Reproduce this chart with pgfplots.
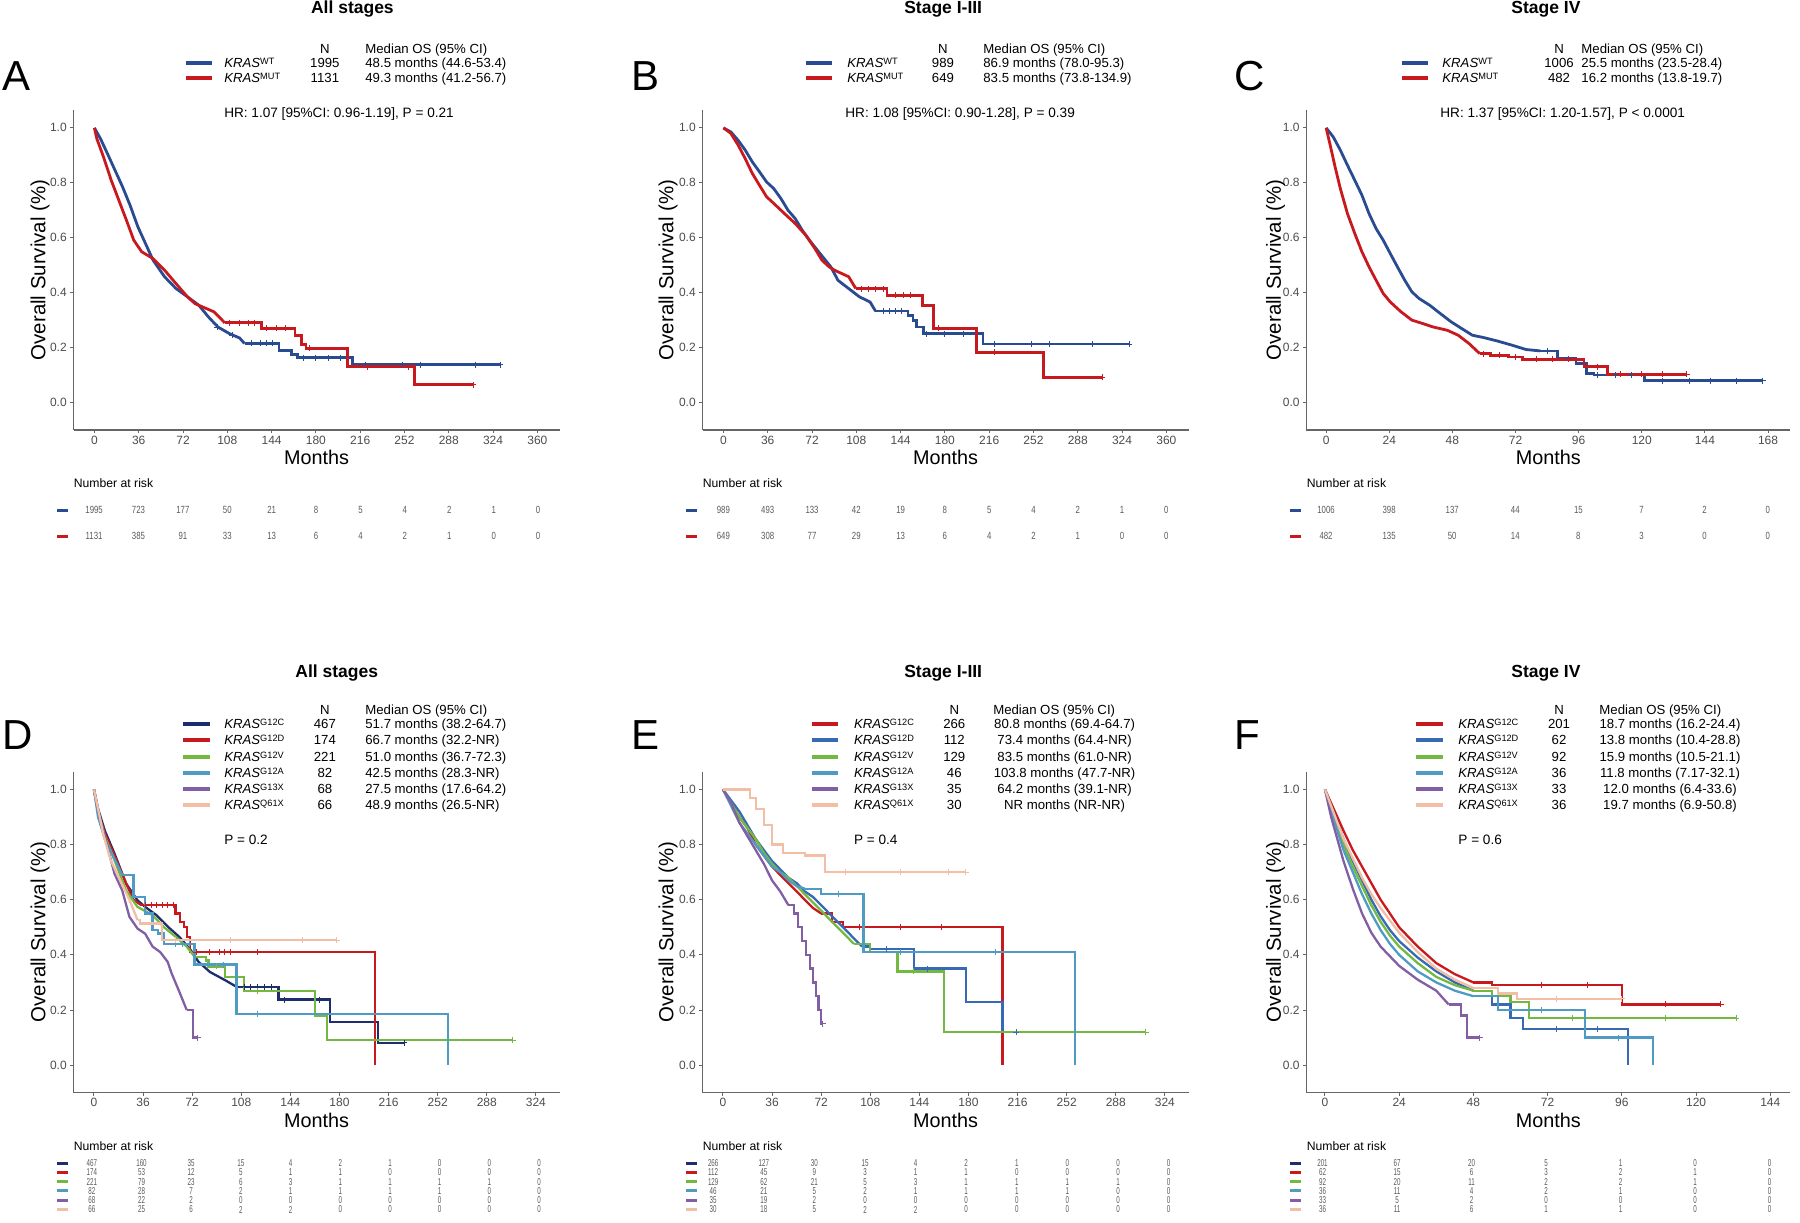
\documentclass[border=0pt]{standalone}
\usepackage{fontspec}
\setmainfont{Liberation Sans}
\usepackage{pgfplots}
\pgfplotsset{compat=1.18}

\newcommand\fs[1]{\fontsize{#1}{#1}\selectfont}
\newcommand\kras[1]{\textit{KRAS}\raisebox{1.5pt}{\fs{4.6}#1}}

\definecolor{wt}{RGB}{40,75,145}
\definecolor{mut}{RGB}{200,25,30}
\definecolor{cnavy}{RGB}{30,45,110}
\definecolor{cred}{RGB}{200,25,30}
\definecolor{cblue}{RGB}{55,105,180}
\definecolor{cgreen}{RGB}{115,185,65}
\definecolor{cteal}{RGB}{80,155,195}
\definecolor{cpurple}{RGB}{130,95,165}
\definecolor{cpeach}{RGB}{242,190,165}

\pgfplotsset{
  km/.style={
    scale only axis, anchor=south west,
    axis lines*=left,
    axis line style={draw=black!60, line width=0.6pt},
    every tick/.style={draw=black!60, line width=0.5pt},
    tick align=outside, major tick length=1.7pt,
    ymin=-0.1, ymax=1.065,
    ytick={0,0.2,0.4,0.6,0.8,1},
    yticklabels={0.0,0.2,0.4,0.6,0.8,1.0},
    ticklabel style={font=\fs{6}, text=black!70},
    xticklabel style={inner sep=1pt},
    yticklabel style={inner sep=1.5pt},
    /pgf/number format/assume math mode=true,
  },
  kml/.style={line width=1.4pt},
  kmb/.style={line width=1.15pt},
  cens/.style={only marks, mark=+, mark size=1.5pt, line width=0.5pt},
}

% legend row: colour, y centre, superscript, N, median
\newcommand\lrow[5]{%
  \draw[#1, line width=2pt] (\LX,#2) -- (\LXe,#2);
  \node[lab, anchor=base west] at (\KX,#2+4.7) {\kras{#3}};
  \node[lab, anchor=base] at (\NX,#2+4.7) {#4};
  \node[lab, anchor=\MA] at (\MX,#2+4.7) {#5};
}
% risk row: colour, marker x, y, x0, dx, numbers
\newcommand\rrow[6]{%
  \draw[#1, line width=1.5pt] (#2,#3) -- ({#2+10.5},#3);
  \foreach \v [count=\i from 0] in {#6} \node[risk] at ({#4+#5*\i},#3) {\v};
}

\begin{document}
\begin{tikzpicture}[x=0.5pt, y=-0.5pt,
  lab/.style={inner sep=0pt, font=\fs{6.6}},
  risk/.style={inner sep=0pt, font=\fs{5.2}, text=black!65, xscale=0.75},
  ttl/.style={inner sep=0pt, font=\bfseries\fs{8.75}, anchor=base},
  let/.style={inner sep=0pt, font=\fs{21}, anchor=base west},
  ylab/.style={inner sep=0pt, font=\fs{10.2}, rotate=90},
  xlab/.style={inner sep=0pt, font=\fs{9.9}, anchor=base},
  nar/.style={inner sep=0pt, font=\fs{6.1}, anchor=base west},
  pv/.style={inner sep=0pt, font=\fs{6.8}, anchor=base west}]
\path[use as bounding box] (0,0) rectangle (1800,1222);

%% ---------------- A ----------------
\begin{axis}[km, at={(36.75pt,-215pt)}, width=243pt, height=160pt,
  xmin=-17, xmax=378, xtick={0,36,...,360}]
\addplot[wt, kml] coordinates {(0,1.0)(5,.96)(10.5,.907)(16.7,.846)(22.9,.785)(29,.718)(35.3,.64)(41.5,.579)(47.7,.518)(57,.458)(66.3,.415)(75.6,.385)(84.9,.354)(92.6,.312)(100.4,.275)(109.7,.251)(118,.235)(122,.215)};
\addplot[wt, kml, const plot] coordinates {(122,.215)(150,.19)(160,.175)(165,.163)(210,.138)(330,.138)};
\addplot[mut, kml] coordinates {(0,1.0)(2,.96)(7.4,.894)(13.6,.81)(19.8,.737)(26,.664)(32,.591)(38.4,.549)(47.7,.524)(57,.482)(66.3,.433)(75.6,.385)(81.8,.36)(88,.348)(97.3,.33)(106,.29)};
\addplot[mut, kml, const plot] coordinates {(106,.29)(136,.27)(163,.245)(168,.21)(172,.197)(206,.13)(260,.0655)(308,.0655)};
\addplot[wt, cens] coordinates {(100,.275)(112,.245)(128,.215)(135,.215)(140,.215)(145,.215)(170,.163)(180,.163)(190,.163)(200,.163)(220,.138)(250,.138)(265,.138)(310,.138)(330,.138)};
\addplot[mut, cens] coordinates {(110,.29)(118,.29)(125,.29)(130,.29)(140,.27)(148,.27)(155,.27)(175,.197)(222,.13)(255,.13)(308,.0655)};
\end{axis}
\node[ttl] at (352.4,13.3) {All stages};
\node[let] at (2,90) {A};
\def\LX{186}\def\LXe{212.4}\def\KX{223.9}\def\NX{324.9}\def\MX{365}\def\MA{base west}
\node[lab, anchor=base] at (\NX,53) {N};
\node[lab, anchor=base west] at (\MX,53) {Median OS (95\% CI)};
\lrow{wt}{62.5}{WT}{1995}{48.5 months (44.6-53.4)}
\lrow{mut}{78}{MUT}{1131}{49.3 months (41.2-56.7)}
\node[pv] at (223.9,117.9) {HR: 1.07 [95\%CI: 0.96-1.19], P = 0.21};
\node[ylab] at (40.2,270) {Overall Survival (\%)};
\node[xlab] at (316.5,464.1) {Months};
\node[nar] at (73.5,487.4) {Number at risk};
\rrow{wt}{57.4}{510}{94.1}{44.4}{1995,723,177,50,21,8,5,4,2,1,0}
\rrow{mut}{57.4}{536}{94.1}{44.4}{1131,385,91,33,13,6,4,2,1,0,0}

%% ---------------- B ----------------
\begin{axis}[km, at={(351.25pt,-215pt)}, width=243pt, height=160pt,
  xmin=-17, xmax=378, xtick={0,36,...,360}]
\addplot[wt, kml] coordinates {(0,1)(6.1,.985)(11.9,.955)(17.7,.919)(23.5,.876)(29.3,.84)(35.1,.803)(40.9,.779)(46.7,.743)(52.5,.70)(58.3,.67)(64.1,.627)(69.9,.591)(78.6,.542)(87.3,.494)(93.1,.445)(101.8,.415)(110.5,.385)(119.2,.366)(123.6,.333)};
\addplot[wt, kml, const plot] coordinates {(123.6,.333)(150,.318)(154,.30)(157,.275)(162.7,.251)(211,.213)(330,.213)};
\addplot[mut, kml] coordinates {(0,1)(6,.98)(12,.937)(17.7,.888)(23.5,.834)(29.3,.791)(35.1,.749)(40.9,.725)(49.6,.688)(58.3,.652)(67,.609)(74.3,.561)(80.1,.518)(85.9,.494)(90.2,.482)(96,.47)(101.8,.458)(107.6,.415)};
\addplot[mut, kml, const plot] coordinates {(107.6,.415)(133,.39)(162,.352)(171,.27)(206,.183)(260,.092)(308,.092)};
\addplot[wt, cens] coordinates {(130,.333)(135,.333)(140,.333)(145,.333)(165,.251)(180,.251)(195,.251)(220,.213)(250,.213)(265,.213)(300,.213)(330,.213)};
\addplot[mut, cens] coordinates {(112,.415)(118,.415)(124,.415)(130,.415)(140,.39)(146,.39)(152,.39)(175,.27)(220,.183)(308,.092)};
\end{axis}
\node[ttl] at (943.2,13.3) {Stage I-III};
\node[let] at (630.7,90) {B};
\def\LX{806}\def\LXe{832}\def\KX{847}\def\NX{943}\def\MX{983}\def\MA{base west}
\node[lab, anchor=base] at (\NX,53) {N};
\node[lab, anchor=base west] at (\MX,53) {Median OS (95\% CI)};
\lrow{wt}{62.5}{WT}{989}{86.9 months (78.0-95.3)}
\lrow{mut}{78}{MUT}{649}{83.5 months (73.8-134.9)}
\node[pv] at (845,117.9) {HR: 1.08 [95\%CI: 0.90-1.28], P = 0.39};
\node[ylab] at (668.2,270) {Overall Survival (\%)};
\node[xlab] at (945.5,464.1) {Months};
\node[nar] at (702.5,487.4) {Number at risk};
\rrow{wt}{686.4}{510}{723.4}{44.3}{989,493,133,42,19,8,5,4,2,1,0}
\rrow{mut}{686.4}{536}{723.4}{44.3}{649,308,77,29,13,6,4,2,1,0,0}

%% ---------------- C ----------------
\begin{axis}[km, at={(653.2pt,-215pt)}, width=242pt, height=160pt,
  xmin=-7.5, xmax=176.5, xtick={0,24,...,168}]
\addplot[wt, kml] coordinates {(0,1)(2.7,.967)(5.4,.919)(8.1,.864)(10.9,.809)(13.6,.755)(16.3,.688)(19,.633)(21.7,.591)(24.4,.542)(27.1,.494)(29.9,.445)(32.6,.403)(35.3,.379)(39.4,.354)(43.4,.324)(47.5,.294)(51.6,.269)(55.6,.245)(59.7,.237)(65.1,.224)(70.6,.209)(76,.193)(81.4,.188)};
\addplot[wt, kml, const plot] coordinates {(81.4,.188)(88,.16)(95,.142)(99,.106)(101.8,.1)(121,.08)(166,.08)};
\addplot[mut, kml] coordinates {(0,1)(1.4,.943)(3.4,.858)(5.4,.779)(8.1,.688)(10.9,.615)(13.6,.549)(16.3,.494)(19,.445)(21.7,.397)(24.4,.366)(28.5,.33)(32.6,.30)(36.6,.288)(40.7,.275)(46.1,.263)(50.2,.245)(54.3,.215)(58.4,.178)};
\addplot[mut, kml, const plot] coordinates {(58.4,.178)(62.4,.172)(69.2,.166)(74.6,.157)(98,.13)(107,.103)(137,.103)};
\addplot[wt, cens] coordinates {(84,.188)(92,.16)(103,.1)(110,.1)(116,.1)(128,.08)(138,.08)(146,.08)(156,.08)(166,.08)};
\addplot[mut, cens] coordinates {(60,.178)(66,.172)(72,.166)(80,.157)(86,.157)(92,.157)(103,.13)(112,.103)(120,.103)(128,.103)(137,.103)};
\end{axis}
\node[ttl] at (1546,13.3) {Stage IV};
\node[let] at (1234,90) {C};
\def\LX{1402}\def\LXe{1428}\def\KX{1442}\def\NX{1559}\def\MX{1581}\def\MA{base west}
\node[lab, anchor=base] at (\NX,53) {N};
\node[lab, anchor=base west] at (\MX,53) {Median OS (95\% CI)};
\lrow{wt}{62.5}{WT}{1006}{25.5 months (23.5-28.4)}
\lrow{mut}{78}{MUT}{482}{16.2 months (13.8-19.7)}
\node[pv] at (1440,117.9) {HR: 1.37 [95\%CI: 1.20-1.57], P < 0.0001};
\node[ylab] at (1275.7,270) {Overall Survival (\%)};
\node[xlab] at (1548.4,464.1) {Months};
\node[nar] at (1306.4,487.4) {Number at risk};
\rrow{wt}{1290.4}{510}{1326}{63.1}{1006,398,137,44,15,7,2,0}
\rrow{mut}{1290.4}{536}{1326}{63.1}{482,135,50,14,8,3,0,0}

%% ---------------- D ----------------
\begin{axis}[km, at={(36.75pt,-546.35pt)}, width=243pt, height=160.6pt,
  xmin=-15, xmax=341.3, xtick={0,36,...,324}]
\addplot[cnavy, kmb] coordinates {(0,1)(3,.93)(8,.85)(15.1,.767)(23.5,.659)(31.9,.598)(37.5,.574)(45.8,.544)(54.2,.502)(62.6,.465)(71,.417)(76.6,.375)(85,.338)(96.2,.308)(104.6,.284)};
\addplot[cnavy, kmb, const plot] coordinates {(104.6,.284)(135.3,.238)(173,.157)(208,.081)(227.6,.081)};
\addplot[cred, kmb] coordinates {(0,1)(3,.92)(8,.84)(15.1,.76)(23.5,.66)(29,.60)(34.7,.58)};
\addplot[cred, kmb, const plot] coordinates {(34.7,.58)(59.8,.55)(63,.52)(66,.50)(68,.465)(70.2,.41)(206,0)};
\addplot[cgreen, kmb] coordinates {(0,1)(3,.92)(8,.83)(15.1,.743)(23.5,.634)(31.9,.574)(43,.544)(51.4,.50)(60,.465)(68,.43)(73.8,.393)};
\addplot[cgreen, kmb, const plot] coordinates {(73.8,.393)(82.2,.38)(84,.358)(96,.32)(110,.27)(161.9,.18)(171,.09)(307,.09)};
\addplot[cteal, kmb] coordinates {(0,1)(3,.9)(8,.82)(12,.78)(20.7,.69)};
\addplot[cteal, kmb, const plot] coordinates {(20.7,.69)(29,.61)(37.5,.55)(43,.49)(47,.477)(51.4,.44)(73.8,.365)(104.6,.185)(259.7,0)};
\addplot[cpurple, kmb] coordinates {(0,1)(4,.9)(9.5,.80)(15,.695)(20.7,.634)(26,.538)(32,.495)(37.5,.477)(43,.43)(48.6,.41)(54,.375)(57,.332)(62.6,.266)(68,.2)};
\addplot[cpurple, kmb, const plot] coordinates {(68,.2)(72.4,.1)(76,.1)};
\addplot[cpeach, kmb] coordinates {(0,1)(3,.93)(6.7,.84)(12.3,.743)(18,.683)(26,.6)(32,.526)};
\addplot[cpeach, kmb, const plot] coordinates {(32,.526)(34,.514)(50,.453)(178,.453)};
\addplot[cnavy, cens] coordinates {(110,.284)(115,.284)(120,.284)(125,.284)(130,.284)(140,.238)(165,.238)(227.6,.081)};
\addplot[cred, cens] coordinates {(38,.58)(42,.58)(46,.58)(50,.58)(54,.58)(58,.58)(75,.41)(85,.41)(92,.41)(96,.41)(100,.41)(120,.41)};
\addplot[cgreen, cens] coordinates {(90,.358)(120,.27)(307,.09)};
\addplot[cteal, cens] coordinates {(60,.44)(65,.44)(70,.44)(95,.365)(120,.185)};
\addplot[cpurple, cens] coordinates {(76,.1)};
\addplot[cpeach, cens] coordinates {(60,.453)(100,.453)(153,.453)(178,.453)};
\end{axis}
\node[ttl] at (336.8,677.3) {All stages};
\node[let] at (2,749) {D};
\def\LX{182.5}\def\LXe{210}\def\KX{223.9}\def\NX{324.9}\def\MX{365}\def\MA{base west}
\node[lab, anchor=base] at (\NX,714.7) {N};
\node[lab, anchor=base west] at (\MX,714.7) {Median OS (95\% CI)};
\lrow{cnavy}{724}{G12C}{467}{51.7 months (38.2-64.7)}
\lrow{cred}{740}{G12D}{174}{66.7 months (32.2-NR)}
\lrow{cgreen}{757}{G12V}{221}{51.0 months (36.7-72.3)}
\lrow{cteal}{773}{G12A}{82}{42.5 months (28.3-NR)}
\lrow{cpurple}{789}{G13X}{68}{27.5 months (17.6-64.2)}
\lrow{cpeach}{805}{Q61X}{66}{48.9 months (26.5-NR)}
\node[pv] at (223.9,844.9) {P = 0.2};
\node[ylab] at (40.2,932) {Overall Survival (\%)};
\node[xlab] at (316.5,1127.1) {Months};
\node[nar] at (73.5,1150.4) {Number at risk};
\begin{scope}[risk/.append style={font=\fs{5}, xscale=0.83}]
\rrow{cnavy}{57.4}{1163}{91.8}{49.7}{467,160,35,15,4,2,1,0,0,0}
\rrow{cred}{57.4}{1172.3}{91.8}{49.7}{174,53,12,5,1,1,0,0,0,0}
\rrow{cgreen}{57.4}{1181.6}{91.8}{49.7}{221,79,23,6,3,1,1,1,1,0}
\rrow{cteal}{57.4}{1190.9}{91.8}{49.7}{82,28,7,2,1,1,1,1,0,0}
\rrow{cpurple}{57.4}{1200.2}{91.8}{49.7}{68,22,2,0,0,0,0,0,0,0}
\rrow{cpeach}{57.4}{1209.5}{91.8}{49.7}{66,25,6,2,2,0,0,0,0,0}
\end{scope}

%% ---------------- E ----------------
\begin{axis}[km, at={(351.25pt,-546.35pt)}, width=243pt, height=160.6pt,
  xmin=-15, xmax=341.3, xtick={0,36,...,324}]
\addplot[cred, kmb] coordinates {(0,1)(6,.95)(12,.9)(18,.86)(24,.8)(30,.76)(36,.72)(42,.69)(48,.66)(54,.63)(60,.6)(66,.57)(72,.55)};
\addplot[cred, kmb, const plot] coordinates {(72,.55)(80,.52)(88,.5)(205,0)};
\addplot[cblue, kmb] coordinates {(0,1)(6,.96)(12,.92)(18,.87)(24,.82)(30,.78)(36,.74)(42,.71)(48,.68)(54,.66)(60,.63)(66,.61)(72,.58)(78,.55)(84,.52)(90,.49)(96,.46)(102,.43)};
\addplot[cblue, kmb, const plot] coordinates {(102,.43)(108,.42)(140,.35)(178,.23)(205,.12)(215,.12)};
\addplot[cgreen, kmb] coordinates {(0,1)(6,.95)(12,.9)(18,.86)(24,.82)(30,.77)(36,.73)(42,.7)(48,.68)(54,.65)(60,.62)(66,.59)(72,.56)(78,.53)(84,.5)(90,.47)(96,.44)};
\addplot[cgreen, kmb, const plot] coordinates {(96,.44)(108,.41)(128,.34)(162,.12)(310,.12)};
\addplot[cteal, kmb] coordinates {(0,1)(6,.94)(12,.88)(18,.84)(24,.8)(30,.76)(36,.72)(42,.7)(48,.67)(54,.65)(60,.64)};
\addplot[cteal, kmb, const plot] coordinates {(60,.64)(72,.62)(103,.41)(258,0)};
\addplot[cpurple, kmb] coordinates {(0,1)(6,.95)(12,.88)(18,.83)(24,.78)(30,.73)(36,.67)(42,.63)(48,.58)};
\addplot[cpurple, kmb, const plot] coordinates {(48,.58)(52,.55)(55,.5)(58,.45)(61,.4)(64,.35)(66,.3)(68,.25)(70,.2)(72,.15)(73,.15)};
\addplot[cpeach, kmb, const plot] coordinates {(0,1)(20,.97)(24,.93)(30,.87)(36,.8)(44,.77)(60,.76)(75,.7)(178,.7)};
\addplot[cred, cens] coordinates {(100,.5)(130,.5)(160,.5)};
\addplot[cblue, cens] coordinates {(120,.42)(150,.35)(215,.12)};
\addplot[cgreen, cens] coordinates {(140,.34)(310,.12)};
\addplot[cteal, cens] coordinates {(85,.62)(130,.41)(200,.41)};
\addplot[cpurple, cens] coordinates {(73,.15)};
\addplot[cpeach, cens] coordinates {(90,.7)(130,.7)(165,.7)(178,.7)};
\end{axis}
\node[ttl] at (943.2,677.3) {Stage I-III};
\node[let] at (630.7,749) {E};
\def\LX{811.8}\def\LXe{837.5}\def\KX{853.6}\def\NX{954.3}\def\MX{1064.6}\def\MA{base}
\node[lab, anchor=base] at (\NX,714.7) {N};
\node[lab, anchor=base west] at (992.9,714.7) {Median OS (95\% CI)};
\lrow{cred}{724}{G12C}{266}{80.8 months (69.4-64.7)}
\lrow{cblue}{740}{G12D}{112}{73.4 months (64.4-NR)}
\lrow{cgreen}{757}{G12V}{129}{83.5 months (61.0-NR)}
\lrow{cteal}{773}{G12A}{46}{103.8 months (47.7-NR)}
\lrow{cpurple}{789}{G13X}{35}{64.2 months (39.1-NR)}
\lrow{cpeach}{805}{Q61X}{30}{NR months (NR-NR)}
\node[pv] at (853.6,844.9) {P = 0.4};
\node[ylab] at (668.2,932) {Overall Survival (\%)};
\node[xlab] at (945.5,1127.1) {Months};
\node[nar] at (702.5,1150.4) {Number at risk};
\begin{scope}[risk/.append style={font=\fs{5}, xscale=0.83}]
\rrow{cnavy}{686.4}{1163}{713.2}{50.6}{266,127,30,15,4,2,1,0,0,0}
\rrow{cred}{686.4}{1172.3}{713.2}{50.6}{112,45,9,3,1,1,0,0,0,0}
\rrow{cgreen}{686.4}{1181.6}{713.2}{50.6}{129,62,21,5,3,1,1,1,1,0}
\rrow{cteal}{686.4}{1190.9}{713.2}{50.6}{46,21,5,2,1,1,1,1,0,0}
\rrow{cpurple}{686.4}{1200.2}{713.2}{50.6}{35,19,2,0,0,0,0,0,0,0}
\rrow{cpeach}{686.4}{1209.5}{713.2}{50.6}{30,18,5,2,2,0,0,0,0,0}
\end{scope}

%% ---------------- F ----------------
\begin{axis}[km, at={(653.2pt,-546.35pt)}, width=242pt, height=160.6pt,
  xmin=-6, xmax=150.5, xtick={0,24,...,144}]
\addplot[cred, kmb] coordinates {(0,1)(2,.95)(4,.9)(6,.85)(9,.78)(12,.72)(15,.66)(18,.6)(21,.55)(24,.5)(30,.43)(36,.37)(42,.33)(48,.3)};
\addplot[cred, kmb, const plot] coordinates {(48,.3)(54,.29)(96,.22)(128,.22)};
\addplot[cblue, kmb] coordinates {(0,1)(2,.94)(4,.88)(6,.82)(9,.74)(12,.67)(15,.6)(18,.54)(21,.49)(24,.45)(30,.39)(36,.34)(42,.3)(48,.27)};
\addplot[cblue, kmb, const plot] coordinates {(48,.27)(54,.22)(60,.17)(64,.13)(98,0)};
\addplot[cgreen, kmb] coordinates {(0,1)(2,.93)(4,.87)(6,.8)(9,.72)(12,.65)(15,.58)(18,.52)(21,.47)(24,.43)(30,.37)(36,.32)(42,.29)(48,.27)};
\addplot[cgreen, kmb, const plot] coordinates {(48,.27)(54,.25)(60,.23)(66,.17)(133,.17)};
\addplot[cteal, kmb] coordinates {(0,1)(2,.92)(4,.85)(6,.78)(9,.7)(12,.62)(15,.55)(18,.49)(21,.44)(24,.4)(30,.34)(36,.3)(42,.27)(48,.25)};
\addplot[cteal, kmb, const plot] coordinates {(48,.25)(56,.2)(84,.1)(106,0)};
\addplot[cpurple, kmb] coordinates {(0,1)(2,.9)(4,.82)(6,.74)(9,.64)(12,.55)(15,.48)(18,.43)(24,.36)(30,.31)(36,.27)(40,.22)};
\addplot[cpurple, kmb, const plot] coordinates {(40,.22)(44,.18)(46,.1)(50,.1)};
\addplot[cpeach, kmb] coordinates {(0,1)(2,.94)(4,.88)(6,.82)(9,.75)(12,.68)(15,.62)(18,.57)(24,.48)(30,.41)(36,.35)(42,.31)(48,.28)};
\addplot[cpeach, kmb, const plot] coordinates {(48,.28)(56,.26)(62,.24)(96,.24)};
\addplot[cred, cens] coordinates {(70,.29)(85,.29)(110,.22)(128,.22)};
\addplot[cblue, cens] coordinates {(75,.13)(88,.13)};
\addplot[cgreen, cens] coordinates {(80,.17)(110,.17)(133,.17)};
\addplot[cteal, cens] coordinates {(70,.2)(95,.1)};
\addplot[cpurple, cens] coordinates {(50,.1)};
\addplot[cpeach, cens] coordinates {(75,.24)(96,.24)};
\end{axis}
\node[ttl] at (1546,677.3) {Stage IV};
\node[let] at (1234,749) {F};
\def\LX{1416}\def\LXe{1443}\def\KX{1458}\def\NX{1559}\def\MX{1670}\def\MA{base}
\node[lab, anchor=base] at (\NX,714.7) {N};
\node[lab, anchor=base west] at (1599,714.7) {Median OS (95\% CI)};
\lrow{cred}{724}{G12C}{201}{18.7 months (16.2-24.4)}
\lrow{cblue}{740}{G12D}{62}{13.8 months (10.4-28.8)}
\lrow{cgreen}{757}{G12V}{92}{15.9 months (10.5-21.1)}
\lrow{cteal}{773}{G12A}{36}{11.8 months (7.17-32.1)}
\lrow{cpurple}{789}{G13X}{33}{12.0 months (6.4-33.6)}
\lrow{cpeach}{805}{Q61X}{36}{19.7 months (6.9-50.8)}
\node[pv] at (1458,844.9) {P = 0.6};
\node[ylab] at (1275.7,932) {Overall Survival (\%)};
\node[xlab] at (1548.4,1127.1) {Months};
\node[nar] at (1306.4,1150.4) {Number at risk};
\begin{scope}[risk/.append style={font=\fs{5}, xscale=0.83}]
\rrow{cnavy}{1290.4}{1163}{1322.5}{74.5}{201,67,20,5,1,0,0}
\rrow{cred}{1290.4}{1172.3}{1322.5}{74.5}{62,15,6,3,2,1,0}
\rrow{cgreen}{1290.4}{1181.6}{1322.5}{74.5}{92,20,11,2,2,1,0}
\rrow{cteal}{1290.4}{1190.9}{1322.5}{74.5}{36,11,4,2,1,0,0}
\rrow{cpurple}{1290.4}{1200.2}{1322.5}{74.5}{33,5,2,0,0,0,0}
\rrow{cpeach}{1290.4}{1209.5}{1322.5}{74.5}{36,11,6,1,1,0,0}
\end{scope}
\end{tikzpicture}
\end{document}
